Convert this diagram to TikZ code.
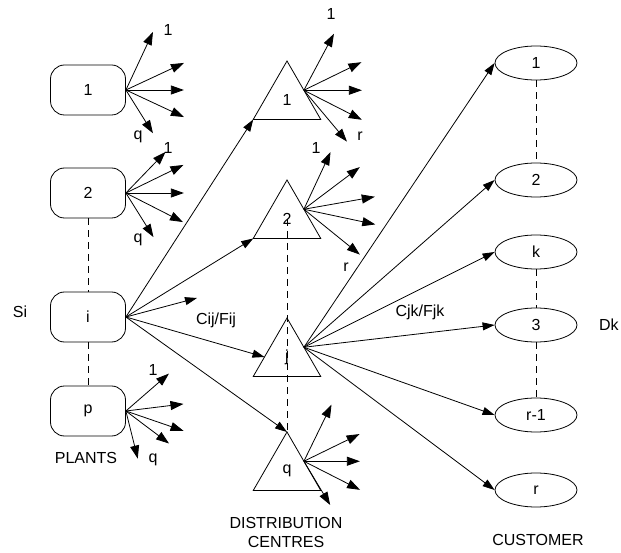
\documentclass[tikz,border=0pt]{standalone}
\usepackage{fontspec}
\setmainfont{Liberation Sans}
\usetikzlibrary{arrows.meta, shapes.geometric}

\begin{document}
\begin{tikzpicture}[
    x=1pt, y=-1pt,
    font=\fontsize{16}{19}\selectfont,
    line width=0.8pt,
    plant/.style={draw, rounded corners=14pt, minimum width=75pt,
                  minimum height=50pt, inner sep=0pt},
    centre/.style={draw, regular polygon, regular polygon sides=3,
                   minimum size=78pt, inner sep=0pt, outer sep=0pt},
    cust/.style={draw, ellipse, minimum width=82pt, minimum height=34pt,
                 inner sep=0pt},
    arr/.style={-{Triangle[length=12pt, width=8pt]}},
    fan/.style={-{Triangle[length=13pt, width=9pt]}},
    link/.style={dash pattern=on 7pt off 5pt},
  ]
  \useasboundingbox (0,0) rectangle (621,553);

  % plants
  \node[plant] (plant1) at (88,90) {1};
  \node[plant] (plant2) at (88,193) {2};
  \node[plant] (planti) at (88,317) {i};
  \node[plant] (plantp) at (88,411) {p};
  \draw[link] (plant2.south) -- (planti.north);
  \draw[link] (planti.south) -- (plantp.north);

  \node (si) at (20,312) {Si};
  \node (plants) at (86,458) {PLANTS};

  \foreach \a/\l in {65/64, 25/64, 0/58, -25/64, -58/51}
    \draw[fan] (plant1.east) -- ++(\a:\l pt);
  \foreach \a/\l in {46/57, 26/64, 0/58, -27/64, -58/52}
    \draw[fan] (plant2.east) -- ++(\a:\l pt);
  \foreach \a/\l in {41/57, 7/58, -19/61, -37/54, -76/49}
    \draw[fan] (plantp.east) -- ++(\a:\l pt);
  \node (l11) at (168,30) {1};
  \node (l1q) at (138,137) {q};
  \node (l21) at (168,148) {1};
  \node (l2q) at (138,240) {q};
  \node (lp1) at (153,370) {1};
  \node (lpq) at (153,460) {q};

  % distribution centres
  \node[centre] (dc1) at (287,100) {1};
  \node[centre] (dc2) at (287,219) {2};
  \node[centre] (dcj) at (287,357) {j};
  \node[centre] (dcq) at (287,471) {q};
  \draw[link] (dc2.center) -- (dcq.corner 1);

  \node (dist) at (286,523) {DISTRIBUTION};
  \node (cent) at (286,542) {CENTRES};

  \foreach \a/\l in {62/64, 26/64, 0/58, -27/65, -50/67}
    \draw[fan] (dc1.side 3) -- ++(\a:\l pt);
  \foreach \a/\l in {65/63, 37/70, 10/72, -12/73, -39/72}
    \draw[fan] (dc2.side 3) -- ++(\a:\l pt);
  \foreach \a/\l in {64/63, 26/62, 0/56, -27/63, -59/51}
    \draw[fan] (dcq.side 3) -- ++(\a:\l pt);
  \node (d11) at (331,14) {1};
  \node (d1r) at (360,136) {r};
  \node (d21) at (316,148) {1};
  \node (d2r) at (346,267) {r};

  \coordinate (more) at (197,298);
  \draw[arr] (planti.east) -- (dc1.corner 2);
  \draw[arr] (planti.east) -- (dc2.corner 2);
  \draw[arr] (planti.east) -- (more);
  \draw[arr] (planti.east) -- (dcj.west);
  \draw[arr] (planti.east) -- (dcq.corner 1);
  \node (cij) at (216,320) {Cij/Fij};

  % customers
  \node[cust] (cust1) at (536,63) {1};
  \node[cust] (cust2) at (536,180) {2};
  \node[cust] (custk) at (536,252) {k};
  \node[cust] (cust3) at (536,325) {3};
  \node[cust] (custr1) at (536,415) {r-1};
  \node[cust] (custr) at (536,490) {r};
  \draw[link] (cust1.south) -- (cust2.north);
  \draw[link] (custk.south) -- (cust3.north);
  \draw[link] (cust3.south) -- (custr1.north);

  \foreach \c in {cust1, cust2, custk, cust3, custr1, custr}
    \draw[arr] (dcj.side 3) -- (\c.west);
  \node (cjk) at (420,312) {Cjk/Fjk};
  \node[anchor=east, inner sep=0pt] (dk) at (619,325) {Dk};
  \node (custs) at (538,540) {CUSTOMER};
\end{tikzpicture}
\end{document}
